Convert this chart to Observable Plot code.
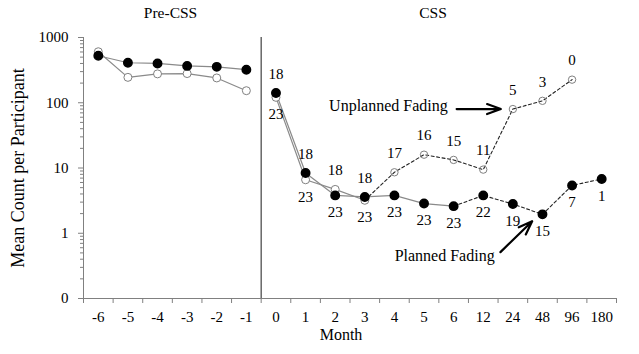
<!DOCTYPE html>
<html><head><meta charset="utf-8">
<script src="https://cdn.jsdelivr.net/npm/d3@7"></script>
<script src="https://cdn.jsdelivr.net/npm/@observablehq/plot@0.6"></script>
<style>
body{margin:0;background:#fff}
#chart svg, #chart svg text { font-family: 'Liberation Serif', 'Times New Roman', serif !important; }
</style>
</head><body><div id="chart"></div>
<script>
// ---- data ----
const months = ["-6","-5","-4","-3","-2","-1","0","1","2","3","4","5","6","12","24","48","96","180"];
const planned   = [525,410,400,367,355,321,141,8.4,3.8,3.6,3.8,2.85,2.6,3.8,2.8,1.95,5.4,6.8];
const unplanned = [605,245,277,280,240,153,121,6.6,4.7,3.2,8.6,16,13.3,9.45,80,107,226,null];
const topLabels    = ["","","","","","","18","18","18","18","17","16","15","11","5","3","0",""];
const bottomLabels = ["","","","","","","23","23","23","23","23","23","23","22","19","15","7","1"];
const yTicks = [0.1, 1, 10, 100, 1000];
const yTickLabels = ["0", "1", "10", "100", "1000"];
const yMinor = [];
for (const d of [0.1, 1, 10, 100]) for (let k = 2; k <= 9; k++) yMinor.push(+(d * k).toPrecision(3));

// ---- layout ----
const W = 639, H = 354, mL = 83, mR = 23, mT = 37, mB = 56;
const step = (W - mL - mR) / months.length;
const serif = "'Liberation Serif', 'Times New Roman', serif";

// segments: [series, values, from, to, dashed]
const segDefs = [
  ["p", planned, 0, 5, false], ["p", planned, 6, 12, false], ["p", planned, 12, 17, true],
  ["u", unplanned, 0, 5, false], ["u", unplanned, 6, 9, false], ["u", unplanned, 9, 16, true]
];
const segRows = [];
segDefs.forEach(([s, vals, a, b, dashed], i) => {
  for (let k = a; k <= b; k++) segRows.push({month: months[k], value: vals[k], seg: i, dashed});
});
const pRows = months.map((m, i) => ({month: m, value: planned[i]}));
const uRows = months.map((m, i) => ({month: m, value: unplanned[i], late: i >= 10})).filter(d => d.value != null);
const topRows = months.map((m, i) => ({month: m, text: topLabels[i],
  value: Math.max(planned[i], unplanned[i] ?? 0)})).filter(d => d.text);
const botRows = months.map((m, i) => ({month: m, text: bottomLabels[i],
  value: unplanned[i] == null ? planned[i] : Math.min(planned[i], unplanned[i])})).filter(d => d.text);

const chart = Plot.plot({
  width: W, height: H, marginLeft: mL, marginRight: mR, marginTop: mT, marginBottom: mB,
  style: {fontFamily: serif, fontSize: "15px", color: "#000", background: "#fff"},
  x: {type: "point", domain: months, padding: 0.5, round: false, label: null, axis: null},
  y: {type: "log", domain: [0.1, 1000], label: null, axis: null},
  marks: [
    // axes
    Plot.ruleY([0.1], {stroke: "#808080"}),
    Plot.ruleX(["-6"], {dx: -step / 2, y1: 0.1, y2: 1000, stroke: "#808080"}),
    Plot.axisY(yMinor, {tickSize: 3, tickFormat: () => "", stroke: "#808080", label: null}),
    Plot.axisY(yTicks, {tickSize: 5, tickPadding: 10, stroke: "#808080", fill: "#000", fontSize: 15,
      tickFormat: d => yTickLabels[yTicks.indexOf(d)], label: null}),
    Plot.axisX(months, {tickSize: 5, dx: -step / 2, tickFormat: () => "", stroke: "#808080", label: null}),
    Plot.axisX(["180"], {tickSize: 5, dx: step / 2, tickFormat: () => "", stroke: "#808080", label: null}),
    Plot.axisX(months, {tickSize: 0, tickPadding: 13, fontSize: 15, fill: "#000", label: null}),
    Plot.text(["Month"], {frameAnchor: "bottom", dy: 41, dx: -9, fontSize: 16}),
    Plot.text(["Mean Count per Participant"], {frameAnchor: "left", textAnchor: "middle", dx: -65, rotate: -90, fontSize: 18}),
    // separator
    Plot.ruleX(["0"], {dx: -step / 2, y1: 0.1, y2: 1000, stroke: "#404040", strokeWidth: 1.2}),
    // section titles
    Plot.text([{x: "-4", t: "Pre-CSS"}], {x: "x", y: () => 1000, dy: -24, text: "t", dx: 13, fontSize: 15.5}),
    Plot.text([{x: "5", t: "CSS"}], {x: "x", y: () => 1000, dy: -24, text: "t", dx: 9, fontSize: 15.5}),
    // lines
    Plot.line(segRows.filter(d => !d.dashed), {x: "month", y: "value", z: "seg", stroke: "#8a8a8a", strokeWidth: 1.2}),
    Plot.line(segRows.filter(d => d.dashed), {x: "month", y: "value", z: "seg", stroke: "#222", strokeWidth: 1.1, strokeDasharray: "3,2.5"}),
    // points
    Plot.dot(uRows.filter(d => !d.late), {x: "month", y: "value", r: 4, stroke: "#808080", fill: "#fff", strokeWidth: 1}),
    Plot.dot(uRows.filter(d => d.late), {x: "month", y: "value", r: 3.7, stroke: "#808080", fill: "none", strokeWidth: 1}),
    Plot.dot(pRows, {x: "month", y: "value", r: 4.2, fill: "#000", stroke: "#000"}),
    // n labels
    Plot.text(topRows, {x: "month", y: "value", text: "text", dy: -19, fontSize: 15}),
    Plot.text(botRows, {x: "month", y: "value", text: "text", dy: 17, fontSize: 15}),
    // annotations
    Plot.text(["Unplanned Fading"], {x: () => "4", y: () => 90, dx: -6, fontSize: 16}),
    Plot.arrow([{}], {x1: () => "6", y1: () => 80, x2: () => "24", y2: () => 80, insetStart: 3, insetEnd: 12,
      stroke: "#000", strokeWidth: 2.2, headLength: 10, headAngle: 40}),
    Plot.text(["Planned Fading"], {x: () => "6", y: () => 0.456, dx: -9, fontSize: 16}),
    Plot.arrow([{}], {x1: () => "12", y1: () => 0.2845, x2: () => "48", y2: () => 2.18, insetStart: 24, insetEnd: 14.4,
      stroke: "#000", strokeWidth: 2.2, headLength: 10, headAngle: 40})
  ]
});
document.getElementById("chart").append(chart);
</script>
</body></html>
